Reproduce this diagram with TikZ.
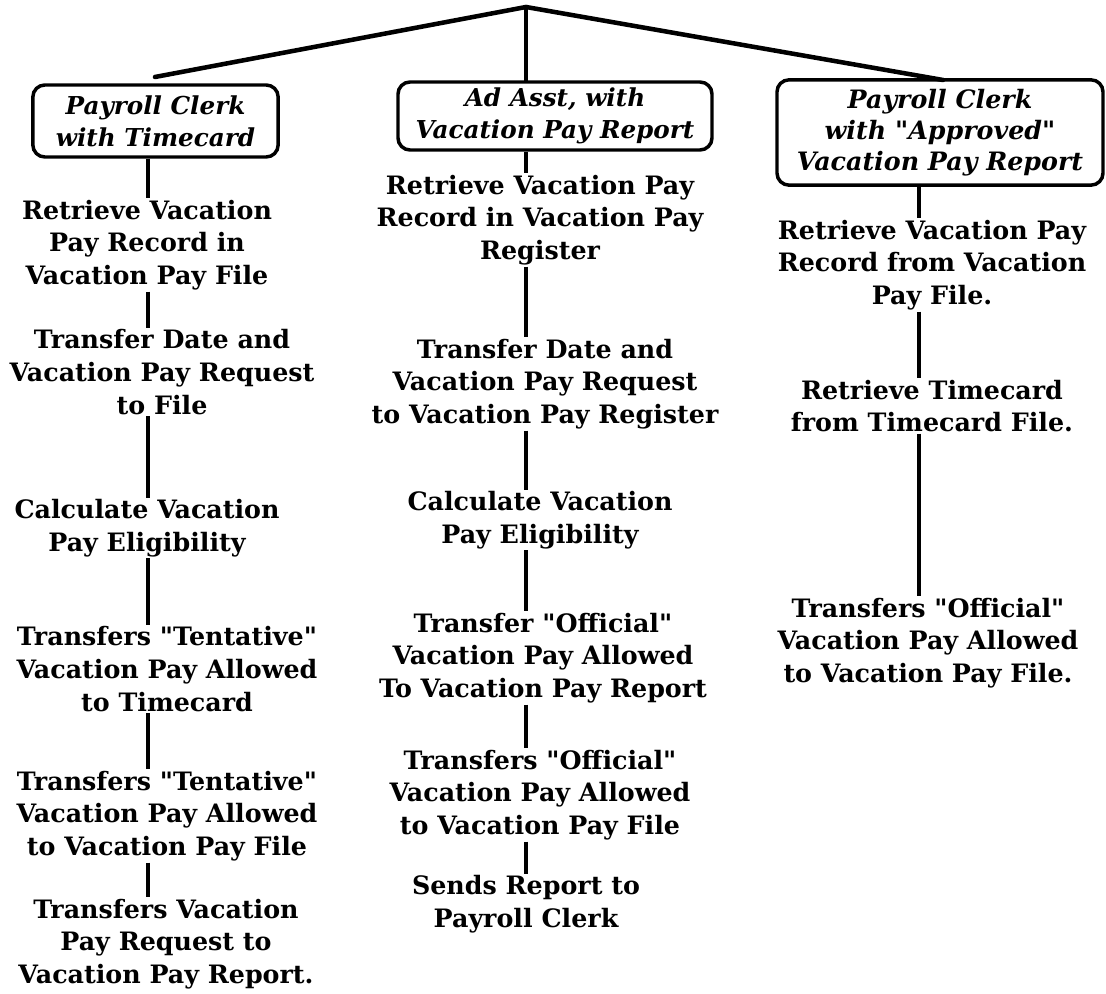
\documentclass[tikz,border=0pt]{standalone}
\usepackage{fontspec}
\setmainfont{DejaVu Serif}
\newcommand{\qd}{\textquotedbl}
\begin{document}
\begin{tikzpicture}[x=0.75pt,y=-0.75pt,
  stepbox/.style={align=center,inner sep=1pt,font=\bfseries\fontsize{19}{24.5}\selectfont},
  actor/.style={draw,line width=2.6pt,rounded corners=9pt,align=center,inner sep=2pt,font=\bfseries\itshape\fontsize{18.5}{24}\selectfont},
  link/.style={line width=2.8pt},
  top/.style={line width=3.4pt,line cap=round,line join=round}]
\useasboundingbox (0,0) rectangle (1106,994);
% column line positions
\coordinate (lx) at (148,0);
\coordinate (mx) at (526,0);
\coordinate (rx) at (919,0);
% top fan
\coordinate (apex) at (526,7);
\coordinate (lend) at (155,77);
\coordinate (rend) at (943,80);
% actor boxes
\node[actor,minimum width=184pt,minimum height=54pt] (LB) at (155.5,121) {Payroll Clerk\\with Timecard};
\node[actor,minimum width=235.5pt,minimum height=51pt] (MB) at (555,116) {Ad Asst, with\\Vacation Pay Report};
\node[actor,minimum width=244.5pt,minimum height=79pt,font=\bfseries\itshape\fontsize{19}{23.3}\selectfont] (RB) at (940,132.5) {Payroll Clerk\\with \qd Approved\qd\\Vacation Pay Report};
% left column
\node[stepbox] (L1) at (147,245) {Retrieve Vacation\\Pay Record in\\Vacation Pay File};
\node[stepbox] (L2) at (162,372) {Transfer Date and\\Vacation Pay Request\\to File};
\node[stepbox] (L3) at (147,528) {Calculate Vacation\\Pay Eligibility};
\node[stepbox] (L4) at (167,669) {Transfers \qd Tentative\qd\\Vacation Pay Allowed\\to Timecard};
\node[stepbox] (L5) at (167,816) {Transfers \qd Tentative\qd\\Vacation Pay Allowed\\to Vacation Pay File};
\node[stepbox] (L6) at (166,944) {Transfers Vacation\\Pay Request to\\Vacation Pay Report.};
% middle column
\node[stepbox] (M1) at (540,220) {Retrieve Vacation Pay\\Record in Vacation Pay\\Register};
\node[stepbox] (M2) at (545,384) {Transfer Date and\\Vacation Pay Request\\to Vacation Pay Register};
\node[stepbox] (M3) at (540,520) {Calculate Vacation\\Pay Eligibility};
\node[stepbox] (M4) at (543,658) {Transfer \qd Official\qd\\Vacation Pay Allowed\\To Vacation Pay Report};
\node[stepbox] (M5) at (540,795) {Transfers \qd Official\qd\\Vacation Pay Allowed\\to Vacation Pay File};
\node[stepbox] (M6) at (526,904) {Sends Report to\\Payroll Clerk};
% right column
\node[stepbox] (R1) at (932,265) {Retrieve Vacation Pay\\Record from Vacation\\Pay File.};
\node[stepbox] (R2) at (932,406) {Retrieve Timecard\\from Timecard File.};
\node[stepbox] (R3) at (928,643) {Transfers \qd Official\qd\\Vacation Pay Allowed\\to Vacation Pay File.};
% top connectors
\draw[top] (lend) -- (apex) -- (rend);
\draw[top] (apex) -- (MB.north -| mx);
% left connectors
\draw[link] (LB.south -| lx) -- (L1.north -| lx);
\draw[link] (L1.south -| lx) -- (L2.north -| lx);
\draw[link] (L2.south -| lx) -- (L3.north -| lx);
\draw[link] (L3.south -| lx) -- (L4.north -| lx);
\draw[link] (L4.south -| lx) -- (L5.north -| lx);
\draw[link] (L5.south -| lx) -- (L6.north -| lx);
% middle connectors
\draw[link] (MB.south -| mx) -- (M1.north -| mx);
\draw[link] (M1.south -| mx) -- (M2.north -| mx);
\draw[link] (M2.south -| mx) -- (M3.north -| mx);
\draw[link] (M3.south -| mx) -- (M4.north -| mx);
\draw[link] (M4.south -| mx) -- (M5.north -| mx);
\draw[link] (M5.south -| mx) -- (M6.north -| mx);
% right connectors
\draw[link] (RB.south -| rx) -- (R1.north -| rx);
\draw[link] (R1.south -| rx) -- (R2.north -| rx);
\draw[link] (R2.south -| rx) -- (R3.north -| rx);
\end{tikzpicture}
\end{document}
